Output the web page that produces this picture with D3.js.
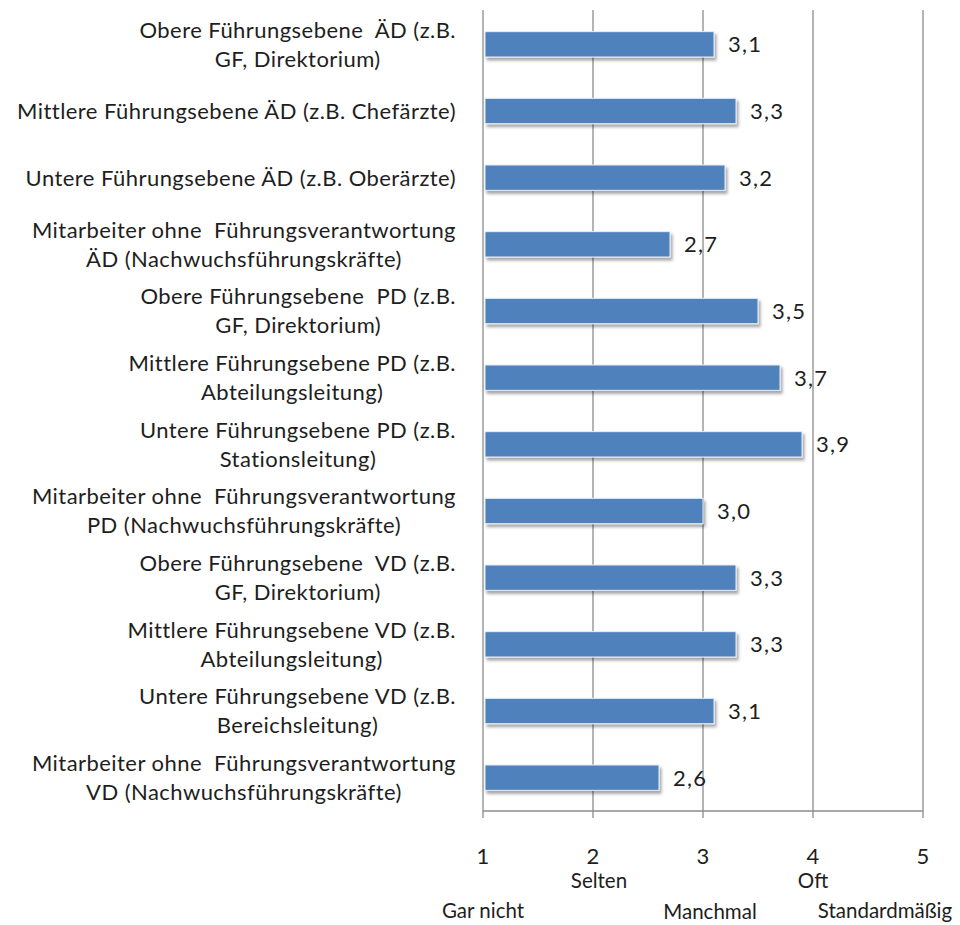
<!DOCTYPE html>
<html>
<head>
<meta charset="utf-8">
<script src="https://cdn.jsdelivr.net/npm/d3@7"></script>
<style>
  body { margin: 0; background: #fff; }
  text { font-family: Lato, "Open Sans", sans-serif; fill: #1e1e1e; }
</style>
</head>
<body>
<div id="chart"></div>
<script>
// categories (lines of each label)
var categories = [
  ["Obere Führungsebene  ÄD (z.B.", "GF, Direktorium)"],
  ["Mittlere Führungsebene ÄD (z.B. Chefärzte)"],
  ["Untere Führungsebene ÄD (z.B. Oberärzte)"],
  ["Mitarbeiter ohne  Führungsverantwortung", "ÄD (Nachwuchsführungskräfte)"],
  ["Obere Führungsebene  PD (z.B.", "GF, Direktorium)"],
  ["Mittlere Führungsebene PD (z.B.", "Abteilungsleitung)"],
  ["Untere Führungsebene PD (z.B.", "Stationsleitung)"],
  ["Mitarbeiter ohne  Führungsverantwortung", "PD (Nachwuchsführungskräfte)"],
  ["Obere Führungsebene  VD (z.B.", "GF, Direktorium)"],
  ["Mittlere Führungsebene VD (z.B.", "Abteilungsleitung)"],
  ["Untere Führungsebene VD (z.B.", "Bereichsleitung)"],
  ["Mitarbeiter ohne  Führungsverantwortung", "VD (Nachwuchsführungskräfte)"]
];
var values = [3.1, 3.3, 3.2, 2.7, 3.5, 3.7, 3.9, 3.0, 3.3, 3.3, 3.1, 2.6];
var ticks = [1, 2, 3, 4, 5];
var scaleLabels = [
  {v: 1, text: "Gar nicht", row: 2},
  {v: 2, text: "Selten", row: 1},
  {v: 3, text: "Manchmal", row: 2},
  {v: 4, text: "Oft", row: 1},
  {v: 5, text: "Standardmäßig", row: 2}
];

var width = 960, height = 925;
var plotLeft = 483, plotRight = 923, plotTop = 11, plotBottom = 811;

var svg = d3.select("#chart").append("svg")
  .attr("width", width)
  .attr("height", height);

var defs = svg.append("defs");
var f = defs.append("filter").attr("id", "shadow")
  .attr("x", "-5%").attr("y", "-30%").attr("width", "115%").attr("height", "190%");
f.append("feDropShadow").attr("dx", 2).attr("dy", 3).attr("stdDeviation", 1.5)
  .attr("flood-color", "#000").attr("flood-opacity", 0.35);

var x = d3.scaleLinear().domain([1, 5]).range([plotLeft, plotRight]);
var y = d3.scaleBand().domain(d3.range(categories.length)).range([plotTop, plotBottom])
  .paddingInner(0.62).paddingOuter(0.31);

// gridlines
svg.append("g").selectAll("line")
  .data(ticks)
  .enter().append("line")
    .attr("x1", d => x(d)).attr("x2", d => x(d))
    .attr("y1", 10).attr("y2", 818)
    .attr("stroke", "#8c8c8c").attr("stroke-width", 1.3);

// bottom axis line
svg.append("line")
  .attr("x1", x(1)).attr("x2", x(5))
  .attr("y1", plotBottom).attr("y2", plotBottom)
  .attr("stroke", "#8c8c8c").attr("stroke-width", 1.3);

// bars
svg.append("g").selectAll("rect")
  .data(values)
  .enter().append("rect")
    .attr("x", x(1) + 2)
    .attr("y", (d, i) => y(i))
    .attr("width", d => x(d) - x(1) - 2)
    .attr("height", y.bandwidth())
    .attr("fill", "#4f81bd")
    .attr("stroke", "#e8eef7").attr("stroke-width", 1)
    .attr("filter", "url(#shadow)");

// value labels
svg.append("g").selectAll("text")
  .data(values)
  .enter().append("text")
    .attr("x", d => x(d) + 14)
    .attr("y", (d, i) => y(i) + y.bandwidth() / 2)
    .attr("dy", "0.36em")
    .style("font-size", "22px")
    .style("letter-spacing", "1.2px")
    .text(d => d3.format(".1f")(d).replace(".", ","));

// category labels, centered lines, block right edge at 456
var lineH = 29;
var lab = svg.append("g").selectAll("text")
  .data(categories)
  .enter().append("text")
    .style("font-size", "22px")
    .style("letter-spacing", "0.45px")
    .style("white-space", "pre")
    .attr("text-anchor", "middle");
lab.each(function(lines, i) {
  var t = d3.select(this);
  var cy = y(i) + y.bandwidth() / 2;
  lines.forEach(function(l, j) {
    t.append("tspan")
      .attr("y", cy + (j - (lines.length - 1) / 2) * lineH)
      .attr("dy", "0.36em")
      .text(l);
  });
  var w = d3.max(t.selectAll("tspan").nodes(), n => n.getComputedTextLength());
  t.selectAll("tspan").attr("x", 456 - w / 2);
});

// tick numbers
svg.append("g").selectAll("text")
  .data(ticks)
  .enter().append("text")
    .attr("x", d => x(d))
    .attr("y", 856)
    .attr("dy", "0.36em")
    .attr("text-anchor", "middle")
    .style("font-size", "22px")
    .text(d => d);

// scale descriptions
svg.append("g").selectAll("text")
  .data(scaleLabels)
  .enter().append("text")
    .attr("x", d => d.v === 3 ? x(d.v) + 7 : d.v === 5 ? x(d.v) - 38 : d.v === 2 ? x(d.v) + 6 : x(d.v))
    .attr("y", d => d.row === 1 ? 881 : (d.v === 3 ? 912 : 911))
    .attr("dy", "0.36em")
    .attr("text-anchor", "middle")
    .style("font-size", "20.5px")
    .text(d => d.text);
</script>
</body>
</html>
